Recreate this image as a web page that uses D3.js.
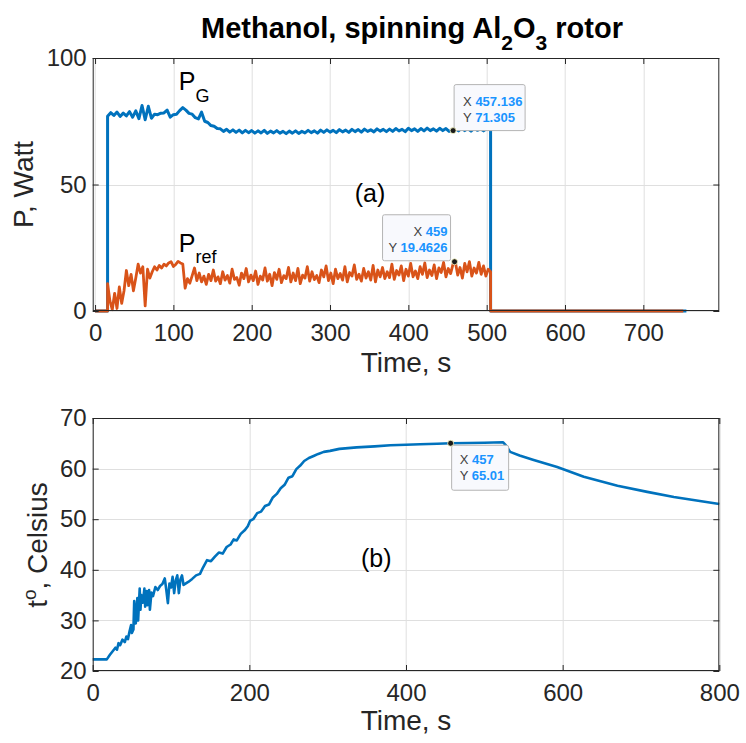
<!DOCTYPE html>
<html>
<head>
<meta charset="utf-8">
<script src="https://d3js.org/d3.v7.min.js"></script>
<style>
body { margin: 0; background: #fff; }
svg text { font-family: "Liberation Sans", Arial, Helvetica, sans-serif; }
</style>
</head>
<body>
<div id="cont"></div>
<script>
// ---- data ----
// top panel, Watt. P_G (blue) sampled every 4 s from t = 16 s
var pgStart = 16, pgStep = 4;
var pgHeadT = [0, 16], pgHeadV = [0, 0];
var pgVals = [
  77.0, 78.4, 77.3, 78.6, 76.9, 78.2, 77.1, 78.8, 76.6, 79.1,
  76.0, 81.2, 75.6, 80.9, 76.2, 77.8, 77.6, 78.2, 78.3, 79.4,
  76.6, 77.6, 77.8, 79.2, 80.4, 79.4, 78.1, 77.8, 76.4, 75.9,
  78.6, 75.0, 74.5, 73.3, 73.0, 72.1, 72.0, 71.0, 71.8, 70.7,
  71.6, 70.6, 71.5, 70.4, 71.4, 70.5, 71.3, 70.3, 71.2, 70.4,
  71.4, 70.2, 71.1, 70.4, 71.3, 70.3, 71.0, 70.1, 71.1, 70.3,
  71.2, 70.2, 71.0, 70.4, 71.4, 70.5, 71.2, 70.3, 71.5, 70.6,
  71.6, 70.7, 71.4, 70.5, 71.7, 70.8, 71.5, 70.6, 71.8, 70.9,
  71.7, 70.7, 71.9, 71.0, 71.6, 70.8, 72.0, 71.1, 71.8, 70.9,
  71.9, 71.0, 72.1, 71.2, 71.8, 70.9, 72.2, 71.3, 72.0, 71.0,
  72.1, 71.2, 72.3, 71.3, 72.0, 71.1, 72.2, 71.3, 72.1, 71.0,
  71.3, 72.0, 71.2, 72.3, 71.3, 72.1, 71.1, 72.2, 71.4, 72.0,
  71.2, 72.1, 71.6
];
var pgTailT = [505, 505, 755], pgTailV = [71.6, 0, 0];

// P_ref (orange) sampled every 3 s from t = 16 s
var prStart = 16, prStep = 3;
var prHeadT = [0, 16], prHeadV = [0, 0];
var prVals = [
  10.8, 4.0, 0.5, 7.0, 1.0, 9.5, 3.0, 8.0, 16.0, 10.0,
  14.5, 8.0, 13.0, 18.5, 15.0, 17.5, 2.0, 16.5, 13.0, 15.5,
  17.5, 16.2, 18.0, 17.0, 18.5, 17.8, 19.0, 19.5, 17.6, 18.4,
  19.6, 19.0, 18.6, 9.0, 12.8, 11.0, 14.0, 17.0, 12.0,
  15.0, 11.5, 13.8, 10.5, 14.5, 12.0, 16.2, 11.8, 13.5, 10.8,
  15.5, 12.2, 14.0, 11.0, 16.5, 12.5, 13.2, 10.2, 15.0, 12.8,
  16.8, 11.5, 14.2, 12.0, 15.8, 10.5, 13.8, 12.2, 17.0, 11.8,
  14.5, 10.0, 15.2, 12.5, 16.5, 11.2, 14.0, 12.8, 17.2, 11.5,
  15.0, 12.0, 16.8, 10.8, 14.2, 13.0, 17.5, 11.8, 15.5, 12.4,
  14.0, 11.2, 16.2, 13.5, 17.8, 12.0, 15.0, 10.8, 16.5, 12.8,
  14.8, 12.2, 17.5, 11.5, 15.2, 13.8, 18.2, 12.5, 14.5, 11.8,
  16.8, 13.0, 15.5, 12.2, 18.0, 11.5, 16.2, 13.5, 17.2, 12.8,
  15.5, 13.2, 18.5, 12.5, 16.0, 14.2, 17.8, 12.0, 16.5, 13.8,
  18.8, 13.5, 15.8, 12.8, 17.5, 14.5, 19.0, 13.2, 16.2, 14.0,
  18.2, 12.8, 17.0, 15.2, 19.2, 13.5, 16.8, 14.8, 18.5, 19.4,
  14.2, 17.2, 13.0, 18.8, 15.5, 19.5, 13.8, 17.0, 15.0, 19.2,
  14.5, 17.8, 13.8, 16.5
];
var prTailT = [505, 505, 751], prTailV = [15.5, 0, 0];

// bottom panel: temperature, Celsius
var tempT = [0, 18, 22, 26, 29, 31, 33, 35, 38, 41,
  43, 45, 47, 49, 50, 52, 53, 55, 57, 58,
  60, 61, 62, 64, 66, 67, 69, 70, 72, 73,
  75, 77, 80, 83, 86, 89, 92, 94, 96, 98,
  100, 102, 104, 106, 108, 110, 112, 114, 116, 119,
  122, 127, 132, 137, 141, 146, 151, 156, 161, 166,
  171, 176, 180, 184, 189, 194, 198, 201, 205, 210,
  215, 220, 225, 230, 235, 240, 245, 250, 255, 260,
  265, 270, 276, 282, 288, 295, 303, 315, 337, 360,
  380, 400, 418, 440, 457, 480, 500, 524, 527, 533,
  545, 563, 593, 627, 670, 708, 742, 800];
var tempV = [22.3, 22.3, 23.2, 24.0, 24.6, 24.2, 25.5, 25.1, 26.2, 25.7,
  26.8, 26.3, 27.8, 29.1, 27.5, 28.2, 33.8, 29.4, 34.4, 30.0,
  36.3, 32.1, 35.0, 33.5, 36.3, 32.7, 35.8, 33.0, 36.0, 32.1,
  35.5, 34.8, 36.6, 36.0, 36.8, 37.2, 38.3, 36.0, 33.4, 37.3,
  36.5, 38.6, 35.4, 37.9, 38.9, 35.4, 38.1, 38.9, 37.0, 37.3,
  37.6, 38.2, 38.9, 39.2, 40.5, 41.9, 41.7, 42.6, 43.4, 43.2,
  44.5, 45.0, 46.0, 45.8, 47.1, 47.8, 48.6, 49.7, 50.0, 51.2,
  51.5, 52.6, 52.9, 54.3, 55.0, 56.1, 56.8, 58.2, 58.5, 59.9,
  60.6, 61.5, 62.1, 62.5, 62.9, 63.3, 63.5, 63.9, 64.2, 64.4,
  64.6, 64.7, 64.8, 64.9, 65.01, 65.05, 65.1, 65.2, 64.7, 63.3,
  62.6, 61.7, 60.3, 58.4, 56.6, 55.4, 54.4, 53.0];

// ticks
var topXTicks = [0, 100, 200, 300, 400, 500, 600, 700];
var topYTicks = [0, 50, 100];
var botXTicks = [0, 200, 400, 600, 800];
var botYTicks = [20, 30, 40, 50, 60, 70];

// data tips
var tipPG = {x: 457.136, y: 71.305, xs: "457.136", ys: "71.305"};
var tipPR = {x: 459, y: 19.4626, xs: "459", ys: "19.4626"};
var tipT = {x: 457, y: 65.01, xs: "457", ys: "65.01"};

// ---- styling ----
var blue = "#0072BD", orange = "#D95319", axCol = "#262626", gridCol = "#dfdfdf";
var tickFont = 24, labelFont = 28;

var svg = d3.select("#cont").append("svg")
    .attr("width", 746)
    .attr("height", 743);

function toPts(headT, headV, start, step, vals, tailT, tailV) {
    var pts = headT.map(function(t, i) { return [t, headV[i]]; });
    vals.forEach(function(v, i) { pts.push([start + i * step, v]); });
    tailT.forEach(function(t, i) { pts.push([t, tailV[i]]); });
    return pts;
}

function panel(box, xDom, yDom, xt, yt) {
    var g = svg.append("g").attr("transform", "translate(" + box.left + "," + box.top + ")");
    var x = d3.scaleLinear().domain(xDom).range([0, box.w]);
    var y = d3.scaleLinear().domain(yDom).range([box.h, 0]);

    // grid
    g.append("g").selectAll("line").data(xt).join("line")
        .attr("x1", function(d) { return Math.round(x(d)) + 0.5; })
        .attr("x2", function(d) { return Math.round(x(d)) + 0.5; })
        .attr("y1", 0).attr("y2", box.h)
        .attr("stroke", gridCol);
    g.append("g").selectAll("line").data(yt).join("line")
        .attr("y1", function(d) { return Math.round(y(d)) + 0.5; })
        .attr("y2", function(d) { return Math.round(y(d)) + 0.5; })
        .attr("x1", 0).attr("x2", box.w)
        .attr("stroke", gridCol);

    var data = g.append("g");
    var front = g.append("g");

    // axes with inward ticks, mirrored on top/right
    front.append("g").attr("transform", "translate(0," + box.h + ")")
        .call(d3.axisBottom(x).tickValues(xt).tickSize(-6).tickPadding(13).tickFormat(d3.format("d")));
    front.append("g")
        .call(d3.axisLeft(y).tickValues(yt).tickSize(-6).tickPadding(6).tickFormat(d3.format("d")));
    front.append("g").call(d3.axisTop(x).tickValues(xt).tickSize(-6).tickFormat(""));
    front.append("g").attr("transform", "translate(" + box.w + ",0)")
        .call(d3.axisRight(y).tickValues(yt).tickSize(-6).tickFormat(""));
    front.selectAll(".domain").remove();
    front.selectAll(".tick line").attr("stroke", axCol);
    front.selectAll(".tick text").attr("fill", axCol).style("font-size", tickFont + "px");
    front.append("rect").attr("x", 0.5).attr("y", 0.5)
        .attr("width", box.w - 1).attr("height", box.h - 1)
        .attr("fill", "none").attr("stroke", axCol);

    return {g: g, data: data, front: front, x: x, y: y};
}

function datatip(p, d, side) {
    var px = p.x(d.x), py = p.y(d.y);
    var w = side.w, h = side.h, bx, by;
    if (side.anchor === "tl") { bx = px + 1; by = py + 2; }
    else if (side.anchor === "bl") { bx = px + 1; by = py - h; }
    else { bx = px - w - 4; by = py - h - 1; }
    var tg = p.front.append("g");
    tg.append("rect").attr("x", bx).attr("y", by).attr("width", w).attr("height", h)
        .attr("rx", 2).attr("fill", "#f8f9fd").attr("stroke", "#b4b4b4");
    var right = side.anchor === "br";
    var tx = right ? bx + w - 3 : bx + side.pad;
    [["X", d.xs], ["Y", d.ys]].forEach(function(r, i) {
        var t = tg.append("text").attr("x", tx).attr("y", by + side.base + i * 16)
            .attr("text-anchor", right ? "end" : "start")
            .style("font-size", "13px");
        t.append("tspan").attr("fill", "#404040").text(r[0] + " ");
        t.append("tspan").attr("fill", "#1a94ff").attr("font-weight", "bold").text(r[1]);
    });
    tg.append("circle").attr("cx", px).attr("cy", py).attr("r", 3)
        .attr("fill", "#1a1a1a").attr("stroke", "#ffffc8").attr("stroke-width", 0.8);
}

function lineGen(p) {
    return d3.line().x(function(d) { return p.x(d[0]); }).y(function(d) { return p.y(d[1]); });
}

// ---- top panel ----
var pTop = panel({left: 92.7, top: 58, w: 626.6, h: 253}, [-3, 797], [0, 100], topXTicks, topYTicks);
pTop.data.append("path")
    .attr("d", lineGen(pTop)(toPts(pgHeadT, pgHeadV, pgStart, pgStep, pgVals, pgTailT, pgTailV)))
    .attr("fill", "none").attr("stroke", blue).attr("stroke-width", 3).attr("stroke-linejoin", "round");
pTop.data.append("path")
    .attr("d", lineGen(pTop)(toPts(prHeadT, prHeadV, prStart, prStep, prVals, prTailT, prTailV)))
    .attr("fill", "none").attr("stroke", orange).attr("stroke-width", 2.8).attr("stroke-linejoin", "round");

var pg = pTop.g.append("text").attr("x", pTop.x(107)).attr("y", pTop.y(87.4))
    .attr("fill", "#000").style("font-size", "25px");
pg.append("tspan").text("P");
pg.append("tspan").attr("dy", 12).style("font-size", "18px").text("G");
var pr = pTop.g.append("text").attr("x", pTop.x(107)).attr("y", pTop.y(23.3))
    .attr("fill", "#000").style("font-size", "25px");
pr.append("tspan").text("P");
pr.append("tspan").attr("dy", 11).style("font-size", "18px").text("ref");
pTop.g.append("text").attr("x", pTop.x(351)).attr("y", pTop.y(43)).attr("text-anchor", "middle")
    .style("font-size", "25px").attr("fill", "#000").text("(a)");

datatip(pTop, tipPG, {anchor: "bl", w: 71, h: 46, pad: 9, base: 21});
datatip(pTop, tipPR, {anchor: "br", w: 68, h: 46, pad: 8, base: 21});

// ---- bottom panel ----
var pBot = panel({left: 92.7, top: 418, w: 626.6, h: 253}, [0, 800], [20, 70], botXTicks, botYTicks);
pBot.data.append("path")
    .attr("d", lineGen(pBot)(tempT.map(function(t, i) { return [t, tempV[i]]; })))
    .attr("fill", "none").attr("stroke", blue).attr("stroke-width", 2.6).attr("stroke-linejoin", "round");
pBot.g.append("text").attr("x", pBot.x(362)).attr("y", pBot.y(40.6)).attr("text-anchor", "middle")
    .style("font-size", "25px").attr("fill", "#000").text("(b)");
datatip(pBot, tipT, {anchor: "tl", w: 57, h: 45, pad: 8, base: 19});

// ---- titles and labels ----
var title = svg.append("text").attr("x", 412).attr("y", 38).attr("text-anchor", "middle")
    .attr("font-weight", "bold").style("font-size", "29px").attr("fill", "#000");
title.append("tspan").text("Methanol, spinning Al");
title.append("tspan").attr("dy", 12).style("font-size", "21px").text("2");
title.append("tspan").attr("dy", -12).text("O");
title.append("tspan").attr("dy", 12).style("font-size", "21px").text("3");
title.append("tspan").attr("dy", -12).text(" rotor");

svg.append("text").attr("x", 406).attr("y", 372).attr("text-anchor", "middle")
    .style("font-size", labelFont + "px").attr("fill", axCol).text("Time, s");
svg.append("text").attr("x", 406).attr("y", 730).attr("text-anchor", "middle")
    .style("font-size", labelFont + "px").attr("fill", axCol).text("Time, s");
svg.append("text").attr("transform", "translate(33,184.5) rotate(-90)").attr("text-anchor", "middle")
    .style("font-size", labelFont + "px").attr("fill", axCol).text("P, Watt");
var yl = svg.append("text").attr("transform", "translate(47,545) rotate(-90)").attr("text-anchor", "middle")
    .style("font-size", labelFont + "px").attr("fill", axCol);
yl.append("tspan").text("t");
yl.append("tspan").attr("dy", -11).style("font-size", "19px").text("o");
yl.append("tspan").attr("dy", 11).text(", Celsius");
</script>
</body>
</html>
